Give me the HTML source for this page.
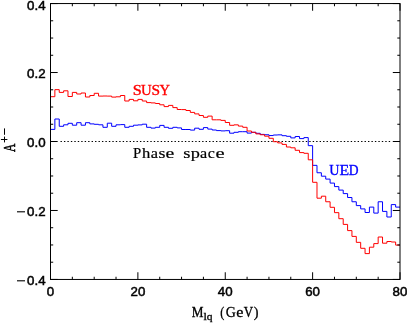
<!DOCTYPE html>
<html><head><meta charset="utf-8"><style>
html,body{margin:0;padding:0;background:#fff;}
svg{display:block}
text{font-family:"Liberation Serif",serif;font-size:14.5px;fill:#000}
.n{font-family:"Liberation Sans",sans-serif;font-size:13.3px;stroke:#000;stroke-width:0.5px}
</style></head><body>
<svg width="407" height="323" viewBox="0 0 407 323">
<defs><filter id="f" x="-5%" y="-5%" width="110%" height="110%" filterUnits="objectBoundingBox"><feOffset dx="0" dy="0"/></filter></defs>
<rect width="407" height="323" fill="#fff"/>
<path d="M60.5 141.50H392" stroke="#000" stroke-width="1" stroke-dasharray="1.4 2.055" fill="none"/>
<path d="M50.50 129.40H54.87V119.00H59.24V126.30H63.61V124.80H67.97V123.30H72.34V125.20H76.71V122.70H81.08V125.20H85.45V122.70H89.82V123.90H94.19V124.30H98.56V124.80H102.93V127.30H107.29V123.20H111.66V126.30H116.03V124.80H120.40V124.60H124.77V127.30H129.14V126.30H133.51V125.20H137.88V124.90H142.24V124.20H146.61V127.30H150.98V128.10H155.35V127.30H159.72V125.40H164.09V127.30H168.46V128.30H172.83V127.30H177.19V127.90H181.56V129.50H185.93V129.50H190.30V130.10H194.67V128.20H199.04V129.30H203.41V127.60H207.78V129.10H212.14V130.00H216.51V130.60H220.88V130.90H225.25V130.70H229.62V133.20H233.99V132.30H238.36V131.70H242.73V131.70H247.09V133.10H251.46V132.30H255.83V133.30H260.20V134.40H264.57V134.75H268.94V135.55H273.31V135.00H277.68V134.85H282.04V135.70H286.41V136.30H290.78V137.90H295.15V136.50H299.52V138.60H303.89V137.60H308.26V145.65H312.62V165.35H316.99V172.75H321.36V176.20H325.73V179.10H330.10V183.10H334.47V186.60H338.84V190.10H343.21V193.60H347.58V197.50H351.94V201.75H356.31V205.60H360.68V208.90H365.05V212.50H369.42V207.10H373.79V213.10H378.16V201.75H382.53V211.40H386.89V217.00H391.26V204.60H395.63V207.10H400.00" stroke="#00f" stroke-width="1" fill="none"/>
<path d="M50.50 96.70H54.87V89.65H59.24V92.40H63.61V90.80H67.97V96.50H72.34V92.40H76.71V94.00H81.08V93.00H85.45V97.00H89.82V95.50H94.19V93.30H98.56V96.10H102.93V96.00H107.29V96.10H111.66V97.10H116.03V96.80H120.40V95.50H124.77V101.00H129.14V99.40H133.51V100.80H137.88V99.40H142.24V101.00H146.61V102.60H150.98V102.90H155.35V103.50H159.72V104.80H164.09V106.60H168.46V105.40H172.83V107.60H177.19V109.50H181.56V109.60H185.93V110.50H190.30V112.40H194.67V113.90H199.04V115.50H203.41V117.30H207.78V116.10H212.14V119.80H216.51V119.80H220.88V120.40H225.25V122.50H229.62V125.30H233.99V124.85H238.36V126.10H242.73V127.30H247.09V131.00H251.46V132.30H255.83V133.90H260.20V134.75H264.57V136.20H268.94V138.30H273.31V141.70H277.68V142.90H282.04V144.40H286.41V147.00H290.78V147.80H295.15V150.30H299.52V152.60H303.89V153.30H308.26V159.80H312.62V182.30H316.99V198.20H321.36V196.20H325.73V201.75H330.10V207.30H334.47V212.65H338.84V218.70H343.21V224.40H347.58V230.60H351.94V236.40H356.31V242.35H360.68V248.30H365.05V253.60H369.42V247.20H373.79V243.60H378.16V237.00H382.53V243.20H386.89V241.50H391.26V242.00H395.63V245.10H400.00" stroke="#f00" stroke-width="1" fill="none"/>
<rect x="50.5" y="3.55" width="349.5" height="275.9" fill="none" stroke="#000" stroke-width="1"/>
<path d="M50.50 279.45v-7.2M50.50 3.55v7.2M72.34 279.45v-2.7M72.34 3.55v2.7M94.19 279.45v-2.7M94.19 3.55v2.7M116.03 279.45v-2.7M116.03 3.55v2.7M137.88 279.45v-7.2M137.88 3.55v7.2M159.72 279.45v-2.7M159.72 3.55v2.7M181.56 279.45v-2.7M181.56 3.55v2.7M203.41 279.45v-2.7M203.41 3.55v2.7M225.25 279.45v-7.2M225.25 3.55v7.2M247.09 279.45v-2.7M247.09 3.55v2.7M268.94 279.45v-2.7M268.94 3.55v2.7M290.78 279.45v-2.7M290.78 3.55v2.7M312.62 279.45v-7.2M312.62 3.55v7.2M334.47 279.45v-2.7M334.47 3.55v2.7M356.31 279.45v-2.7M356.31 3.55v2.7M378.16 279.45v-2.7M378.16 3.55v2.7M400.00 279.45v-7.2M400.00 3.55v7.2M50.5 3.55h7.2M400.0 3.55h-7.2M50.5 20.79h2.7M400.0 20.79h-2.7M50.5 38.04h2.7M400.0 38.04h-2.7M50.5 55.28h2.7M400.0 55.28h-2.7M50.5 72.52h7.2M400.0 72.52h-7.2M50.5 89.77h2.7M400.0 89.77h-2.7M50.5 107.01h2.7M400.0 107.01h-2.7M50.5 124.26h2.7M400.0 124.26h-2.7M50.5 141.50h7.2M400.0 141.50h-7.2M50.5 158.74h2.7M400.0 158.74h-2.7M50.5 175.99h2.7M400.0 175.99h-2.7M50.5 193.23h2.7M400.0 193.23h-2.7M50.5 210.48h7.2M400.0 210.48h-7.2M50.5 227.72h2.7M400.0 227.72h-2.7M50.5 244.96h2.7M400.0 244.96h-2.7M50.5 262.21h2.7M400.0 262.21h-2.7M50.5 279.45h7.2M400.0 279.45h-7.2" stroke="#000" stroke-width="1" fill="none"/>
<g filter="url(#f)">
<text class="n" x="45.6" y="9.7" text-anchor="end">0.4</text><text class="n" x="45.6" y="78.1" text-anchor="end">0.2</text><text class="n" x="45.6" y="147.1" text-anchor="end">0.0</text><text class="n" x="45.6" y="216.1" text-anchor="end">0.2</text><path d="M17 211.8h8" stroke="#000" stroke-width="1.1"/><text class="n" x="45.6" y="285.1" text-anchor="end">0.4</text><path d="M17 280.8h8" stroke="#000" stroke-width="1.1"/><text class="n" x="50.5" y="295.9" text-anchor="middle">0</text><text class="n" x="137.9" y="295.9" text-anchor="middle">20</text><text class="n" x="225.2" y="295.9" text-anchor="middle">40</text><text class="n" x="312.6" y="295.9" text-anchor="middle">60</text><text class="n" x="400.0" y="295.9" text-anchor="middle">80</text>
<text transform="translate(132.68,95.2) scale(1.083,1.0)" style="font-size:15px;fill:#f00;stroke:#f00;stroke-width:0.35px">S</text><text transform="translate(141.10,95.2) scale(0.986,1.0)" style="font-size:15px;fill:#f00;stroke:#f00;stroke-width:0.35px">U</text><text transform="translate(151.57,95.2) scale(1.030,1.0)" style="font-size:15px;fill:#f00;stroke:#f00;stroke-width:0.35px">S</text><text transform="translate(159.46,95.2) scale(0.966,1.0)" style="font-size:15px;fill:#f00;stroke:#f00;stroke-width:0.35px">Y</text><text transform="translate(329.37,175.1) scale(0.942,1.0)" style="font-size:15px;fill:#00f;stroke:#00f;stroke-width:0.35px">U</text><text transform="translate(339.58,175.1) scale(1.055,1.0)" style="font-size:15px;fill:#00f;stroke:#00f;stroke-width:0.35px">E</text><text transform="translate(348.63,175.1) scale(0.905,1.0)" style="font-size:15px;fill:#00f;stroke:#00f;stroke-width:0.35px">D</text><text transform="translate(133.10,158.0) scale(1.021,1.0)" style="font-size:14.5px;fill:#000;stroke:#000;stroke-width:0.2px">P</text><text transform="translate(142.00,158.0) scale(1.140,1.0)" style="font-size:14.5px;fill:#000;stroke:#000;stroke-width:0.2px">h</text><text transform="translate(150.81,158.0) scale(1.127,1.0)" style="font-size:14.5px;fill:#000;stroke:#000;stroke-width:0.2px">a</text><text transform="translate(158.49,158.0) scale(1.228,1.0)" style="font-size:14.5px;fill:#000;stroke:#000;stroke-width:0.2px">s</text><text transform="translate(165.41,158.0) scale(1.361,1.0)" style="font-size:14.5px;fill:#000;stroke:#000;stroke-width:0.2px">e</text><text transform="translate(183.26,158.0) scale(1.272,1.0)" style="font-size:14.5px;fill:#000;stroke:#000;stroke-width:0.2px">s</text><text transform="translate(190.72,158.0) scale(1.259,1.0)" style="font-size:14.5px;fill:#000;stroke:#000;stroke-width:0.2px">p</text><text transform="translate(200.02,158.0) scale(1.110,1.0)" style="font-size:14.5px;fill:#000;stroke:#000;stroke-width:0.2px">a</text><text transform="translate(207.82,158.0) scale(1.096,1.0)" style="font-size:14.5px;fill:#000;stroke:#000;stroke-width:0.2px">c</text><text transform="translate(215.38,158.0) scale(1.416,1.0)" style="font-size:14.5px;fill:#000;stroke:#000;stroke-width:0.2px">e</text><text transform="translate(191.79,317.1) scale(0.940,1.0)" style="font-size:14px;fill:#000;stroke:#000;stroke-width:0.3px">M</text><text transform="translate(220.31,317.1) scale(0.873,1.0)" style="font-size:14px;fill:#000;stroke:#000;stroke-width:0.3px">(</text><text transform="translate(225.74,317.1) scale(0.996,1.0)" style="font-size:14px;fill:#000;stroke:#000;stroke-width:0.3px">G</text><text transform="translate(236.32,317.1) scale(1.147,1.0)" style="font-size:14px;fill:#000;stroke:#000;stroke-width:0.3px">e</text><text transform="translate(243.67,317.1) scale(0.926,1.0)" style="font-size:14px;fill:#000;stroke:#000;stroke-width:0.3px">V</text><text transform="translate(253.87,317.1) scale(1.016,1.0)" style="font-size:14px;fill:#000;stroke:#000;stroke-width:0.3px">)</text><text transform="translate(203.46,320.1) scale(1.119,1.0)" style="font-size:10.8px;fill:#000;stroke:#000;stroke-width:0.3px">l</text><text transform="translate(206.65,320.1) scale(1.067,1.0)" style="font-size:10.8px;fill:#000;stroke:#000;stroke-width:0.3px">q</text><g transform="translate(14.9,152) rotate(-90)"><text transform="translate(0.00,0) scale(0.729,1.0)" style="font-size:16px;fill:#000;stroke:#000;stroke-width:0.55px">A</text></g><path d="M0.9 139.5H7.4M4.5 136.6V142.4M4.5 128.4V134.8" stroke="#000" stroke-width="1" fill="none"/>
</g>
</svg>
</body></html>
